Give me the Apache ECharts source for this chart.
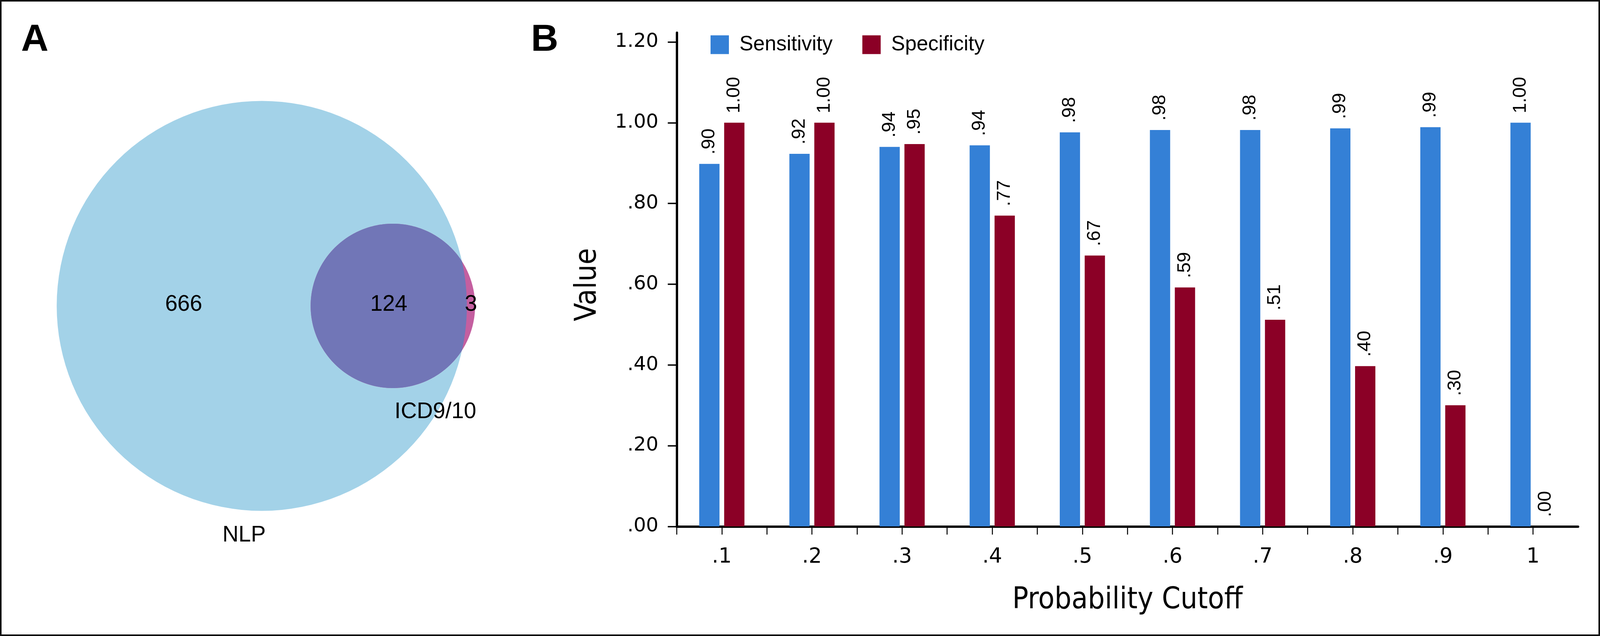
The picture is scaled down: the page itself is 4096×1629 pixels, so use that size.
<!DOCTYPE html>
<html><head><meta charset="utf-8">
<script src="https://cdn.jsdelivr.net/npm/echarts@6/dist/echarts.min.js"></script>
<style>html,body{margin:0;padding:0;background:#fff;overflow:hidden}#chart{width:4096px;height:1629px}</style>
</head><body><div id="chart"></div>
<script>
// ---------- data ----------
const cutoffs = [0.1, 0.2, 0.3, 0.4, 0.5, 0.6, 0.7, 0.8, 0.9, 1.0];
const xTickLabels = ['.1', '.2', '.3', '.4', '.5', '.6', '.7', '.8', '.9', '1'];
const xTickPositions = [0.05, 0.1, 0.15, 0.2, 0.25, 0.3, 0.35, 0.4, 0.45, 0.5, 0.55, 0.6, 0.65, 0.7, 0.75, 0.8, 0.85, 0.9, 0.95, 1.0];
const sensitivity = [0.898, 0.923, 0.940, 0.944, 0.976, 0.982, 0.982, 0.986, 0.989, 1.000];
const specificity = [1.000, 1.000, 0.947, 0.770, 0.671, 0.592, 0.512, 0.397, 0.300, 0.000];
const yTickValues = [0, 0.2, 0.4, 0.6, 0.8, 1.0, 1.2];
const yTickLabels = ['.00', '.20', '.40', '.60', '.80', '1.00', '1.20'];
const seriesNames = ['Sensitivity', 'Specificity'];
const vennSetNames = ['NLP', 'ICD9/10'];
const vennRegionCounts = [666, 124, 3]; // NLP only, both, ICD9/10 only

// ---------- styles ----------
const K = 0.998;
const BLUE = '#3480d6', RED = '#8b0026';
const VENN_FILL = ['#a3d2e8', '#c45fa0'], VENN_OVERLAP = '#7176b7';
const SANS = "'Liberation Sans', Arial, Helvetica, sans-serif";
const TICKFONT = "'DejaVu Sans', Verdana, sans-serif";
const NARROW = "'Liberation Sans Narrow', 'DejaVu Sans Condensed', 'Arial Narrow', sans-serif";
const Y_AXIS_TOP = 1.2229; // axis line runs slightly past the last tick

// ---------- venn layout (area proportional) ----------
const sizeA = vennRegionCounts[0] + vennRegionCounts[1];
const sizeB = vennRegionCounts[1] + vennRegionCounts[2];
const overlap = vennRegionCounts[1];
const rA = Math.sqrt(sizeA / Math.PI), rB = Math.sqrt(sizeB / Math.PI);
function lensArea(d) {
  if (d >= rA + rB) return 0;
  if (d <= Math.abs(rA - rB)) return Math.PI * Math.min(rA, rB) ** 2;
  const a1 = Math.acos((d * d + rA * rA - rB * rB) / (2 * d * rA));
  const a2 = Math.acos((d * d + rB * rB - rA * rA) / (2 * d * rB));
  const s = Math.sqrt((-d + rA + rB) * (d + rA - rB) * (d - rA + rB) * (d + rA + rB));
  return rA * rA * a1 + rB * rB * a2 - 0.5 * s;
}
let lo = Math.abs(rA - rB), hi = rA + rB;
for (let i = 0; i < 200; i++) { const m = (lo + hi) / 2; if (lensArea(m) > overlap) lo = m; else hi = m; }
const dAB = (lo + hi) / 2;
const vennCatAngle = [184.4, 158.2]; // degrees clockwise from 12 o'clock
const vennCatGap = [1.96, 2.5];     // beyond circle edge, venn units

const vennScale = 525 / rA; // px per venn unit
const vennCenter = [671.5 * K, 785 * K];
const VSPAN = 17;

const chart = echarts.init(document.getElementById('chart'), null, { renderer: 'canvas' });

const option = {
  animation: false,
  backgroundColor: '#fff',
  legend: {
    data: seriesNames, left: 1814, top: 83, icon: 'rect', itemWidth: 47, itemHeight: 48, itemGap: 76,
    selectedMode: false,
    textStyle: { fontFamily: SANS, fontSize: 53, color: '#000', padding: [0, 0, 0, 22] }
  },
  grid: [
    { left: 1736 * K, right: 4096 - 4048 * K, top: 84 * K, bottom: 1629 - 1351 * K, containLabel: false, outerBoundsMode: 'none' },
    { left: vennCenter[0] - VSPAN * vennScale, top: vennCenter[1] - VSPAN * vennScale,
      width: 2 * VSPAN * vennScale, height: 2 * VSPAN * vennScale, containLabel: false, outerBoundsMode: 'none' }
  ],
  xAxis: [
    {
      type: 'value', gridIndex: 0, min: 0.05, max: 1.05, interval: 0.05,
      name: 'Probability Cutoff', nameLocation: 'middle', nameGap: 152,
      nameTextStyle: { fontFamily: NARROW, fontSize: 76, color: '#000' },
      axisLine: { show: true, onZero: false, lineStyle: { color: '#000', width: 6 } },
      axisTick: { show: true, inside: false, length: 21, customValues: xTickPositions, lineStyle: { color: '#000', width: 2.5 } },
      axisLabel: {
        show: true, margin: 52, customValues: cutoffs, fontFamily: TICKFONT, fontSize: 53, color: '#000',
        formatter: v => { const i = cutoffs.findIndex(c => Math.abs(c - v) < 1e-6); return i >= 0 ? xTickLabels[i] : ''; }
      },
      splitLine: { show: false }
    },
    { type: 'value', gridIndex: 1, min: -VSPAN, max: VSPAN, show: false }
  ],
  yAxis: [
    {
      type: 'value', gridIndex: 0, min: 0, max: Y_AXIS_TOP,
      name: 'Value', nameLocation: 'middle', nameGap: 189, nameRotate: 90,
      nameTextStyle: { fontFamily: NARROW, fontSize: 76, color: '#000', padding: [0, 26, 0, 0] },
      axisLine: { show: true, lineStyle: { color: '#000', width: 6 } },
      axisTick: { show: true, inside: false, length: 23, customValues: yTickValues, lineStyle: { color: '#000', width: 3.5 } },
      axisLabel: {
        show: true, margin: 47, customValues: yTickValues, fontFamily: TICKFONT, fontSize: 50, color: '#000',
        formatter: v => { const i = yTickValues.findIndex(c => Math.abs(c - v) < 1e-6); return i >= 0 ? yTickLabels[i] : ''; }
      },
      splitLine: { show: false }
    },
    { type: 'value', gridIndex: 1, min: -VSPAN, max: VSPAN, show: false }
  ],
  series: [
    ...[sensitivity, specificity].map((vals, si) => ({
      type: 'bar', name: seriesNames[si], xAxisIndex: 0, yAxisIndex: 0,
      data: cutoffs.map((c, i) => [c, vals[i]]),
      barWidth: 52 * K, barGap: '23%',
      itemStyle: { color: si === 0 ? BLUE : RED },
      label: {
        show: true, position: 'top', distance: 24, rotate: 90, align: 'left', verticalAlign: 'middle',
        fontFamily: SANS, fontSize: 48, color: '#000',
        formatter: p => p.value[1].toFixed(2).replace(/^0/, '')
      }
    })),
    {
      type: 'custom', name: 'venn', xAxisIndex: 1, yAxisIndex: 1, clip: false, z: 2,
      data: [
        { name: vennSetNames[0], value: [0, 0, rA, 0] },
        { name: vennSetNames[1], value: [dAB, 0, rB, 1] }
      ],
      renderItem: (params, api) => {
        const i = params.dataIndex;
        const cx = api.value(0), cy = api.value(1), r = api.value(2);
        const c = api.coord([cx, cy]);
        const rp = api.size([r, 0])[0];
        const children = [{ type: 'circle', shape: { cx: c[0], cy: c[1], r: rp }, style: { fill: VENN_FILL[i] } }];
        if (i === 1) {
          const xInt = (dAB * dAB + rA * rA - rB * rB) / (2 * dAB);
          const yInt = Math.sqrt(Math.max(0, rA * rA - xInt * xInt));
          const tB = Math.atan2(yInt, xInt - dAB), tA = Math.atan2(yInt, xInt);
          const pts = [];
          const N = 240;
          for (let k = 0; k <= N; k++) { const t = tB + (2 * Math.PI - 2 * tB) * k / N; pts.push(api.coord([dAB + rB * Math.cos(t), rB * Math.sin(t)])); }
          for (let k = 0; k <= N; k++) { const t = -tA + 2 * tA * k / N; pts.push(api.coord([rA * Math.cos(t), rA * Math.sin(t)])); }
          children.push({ type: 'polygon', shape: { points: pts }, style: { fill: VENN_OVERLAP } });
        }
        const ang = vennCatAngle[i] * Math.PI / 180, dist = r + vennCatGap[i];
        const lp = api.coord([cx + dist * Math.sin(ang), cy + dist * Math.cos(ang)]);
        children.push({ type: 'text', x: lp[0], y: lp[1], z2: 10,
          style: { text: vennSetNames[i], fontFamily: SANS, fontSize: 57, fill: '#000', align: 'center', verticalAlign: 'middle' } });
        return { type: 'group', children };
      }
    },
    {
      type: 'custom', name: 'vennCounts', xAxisIndex: 1, yAxisIndex: 1, clip: false, z: 5,
      data: [
        [(-rA + (dAB - rB)) / 2, 0, vennRegionCounts[0]],
        [((dAB - rB) + rA) / 2, 0, vennRegionCounts[1]],
        [(rA + dAB + rB) / 2, 0, vennRegionCounts[2]]
      ],
      renderItem: (params, api) => {
        const p = api.coord([api.value(0), api.value(1)]);
        return { type: 'text', x: p[0], y: p[1] - 3,
          style: { text: String(api.value(2)), fontFamily: SANS, fontSize: 57, fill: '#000', align: 'center', verticalAlign: 'middle' } };
      }
    }
  ],
  graphic: [
    { type: 'rect', shape: { x: 2, y: 2, width: 4092, height: 1625 }, style: { fill: null, stroke: '#111', lineWidth: 4 }, silent: true },
    { type: 'text', x: 54 * K, y: 103 * K, style: { text: 'A', fontFamily: SANS, fontWeight: 'bold', fontSize: 97, fill: '#000', align: 'left', verticalAlign: 'middle' } },
    { type: 'text', x: 1362 * K, y: 103 * K, style: { text: 'B', fontFamily: SANS, fontWeight: 'bold', fontSize: 97, fill: '#000', align: 'left', verticalAlign: 'middle' } }
  ]
};
chart.setOption(option);
</script>
</body></html>
